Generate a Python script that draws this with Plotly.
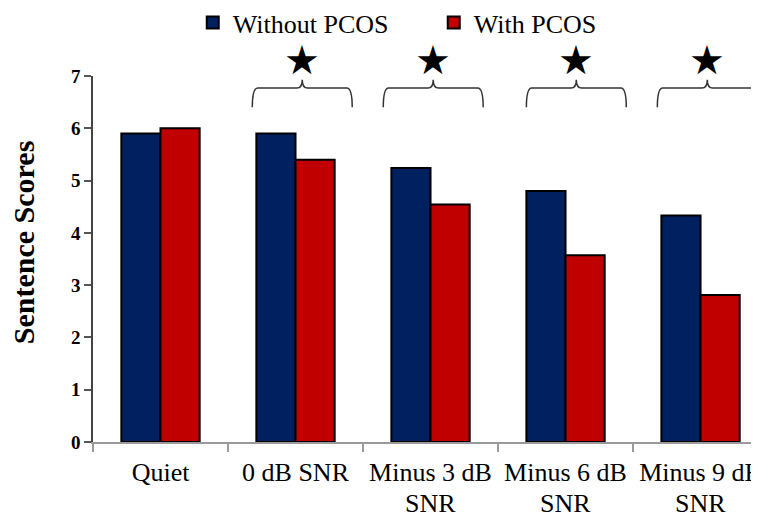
import plotly.graph_objects as go

categories = ["Quiet", "0 dB SNR", "Minus 3 dB", "Minus 6 dB", "Minus 9 dB"]
second_line = ["", "", "SNR", "SNR", "SNR"]
without_pcos = [5.9, 5.9, 5.24, 4.8, 4.33]
with_pcos = [6.0, 5.4, 4.54, 3.57, 2.81]
y_ticks = [0, 1, 2, 3, 4, 5, 6, 7]
# significance markers: category index with small hand-placed offsets, as in the source
sig_centers = [1.05, 2.02, 3.08, 4.05]

FONT = "Liberation Serif"
BLUE = "#002060"
RED = "#C00000"
Y_MAX = 7

xs = list(range(len(categories)))

fig = go.Figure()
fig.add_trace(go.Bar(x=xs, y=without_pcos, name="Without PCOS",
                     marker=dict(color=BLUE, line=dict(color="black", width=2))))
fig.add_trace(go.Bar(x=xs, y=with_pcos, name="With PCOS",
                     marker=dict(color=RED, line=dict(color="black", width=2))))

# curly brackets with stars
hw = 0.37
y_end, y_bar, y_tip = 6.40, 6.77, 6.93
for c in sig_centers:
    x0, x1 = c - hw, c + hw
    path = (f"M {x0},{y_end} Q {x0},{y_bar} {x0+0.04},{y_bar} "
            f"L {c-0.04},{y_bar} Q {c},{y_bar} {c},{y_tip} "
            f"Q {c},{y_bar} {c+0.04},{y_bar} "
            f"L {x1-0.04},{y_bar} Q {x1},{y_bar} {x1},{y_end}")
    fig.add_shape(type="path", path=path, xref="x", yref="y",
                  line=dict(color="#333333", width=1.5))
    fig.add_annotation(x=c, y=7.31 / Y_MAX, xref="x", yref="paper", text="★", showarrow=False,
                       font=dict(family="DejaVu Sans", size=40, color="black"),
                       xanchor="center", yanchor="middle")

# second line of the category labels
for i, t in enumerate(second_line):
    if t:
        fig.add_annotation(x=i, y=-0.167, xref="x", yref="paper", text=t, showarrow=False,
                           font=dict(family=FONT, size=26, color="black"),
                           xanchor="center", yanchor="middle")

# y-axis title
fig.add_annotation(x=-0.105, y=0.546, xref="paper", yref="paper", text="<b>Sentence Scores</b>",
                   textangle=-90, showarrow=False, xanchor="center", yanchor="middle",
                   font=dict(family=FONT, size=30, color="black"))

fig.update_layout(
    width=751, height=505,
    margin=dict(l=85, r=0, t=68, b=71, autoexpand=False),
    plot_bgcolor="white", paper_bgcolor="white",
    barmode="group", bargap=0.42, bargroupgap=0,
    font=dict(family=FONT, color="black"),
    legend=dict(orientation="h", xref="container", yref="container",
                x=0.246, y=0.971, xanchor="left", yanchor="middle",
                font=dict(family=FONT, size=26), entrywidth=196, entrywidthmode="pixels",
                itemwidth=30, tracegroupgap=0, bgcolor="rgba(0,0,0,0)"),
    xaxis=dict(range=[-0.5, 4.433], tickvals=xs, ticktext=categories, ticks="",
               showline=True, linecolor="#9a9a9a", linewidth=1.5, automargin=False,
               ticklabeloverflow="allow", ticklabelstandoff=6,
               tickfont=dict(family=FONT, size=26), showgrid=False, zeroline=False),
    xaxis2=dict(overlaying="x", matches="x", anchor="y", side="bottom", automargin=False,
                tickvals=[i - 0.5 for i in range(len(categories) + 1)],
                ticks="outside", ticklen=9, tickcolor="#9a9a9a", tickwidth=1.5,
                showticklabels=False, showgrid=False, zeroline=False, showline=False),
    yaxis=dict(range=[0, Y_MAX], tickvals=y_ticks, ticks="outside", ticklen=7,
               tickcolor="#555555", tickwidth=1.5, automargin=False,
               showline=True, linecolor="#444444", linewidth=1.5,
               showgrid=False, zeroline=False,
               tickfont=dict(family=FONT, size=19, weight="bold")),
)
# invisible trace to activate xaxis2
fig.add_trace(go.Scatter(x=[0], y=[0], xaxis="x2", mode="markers",
                         marker=dict(opacity=0), showlegend=False, hoverinfo="skip"))

fig.write_html("out.html")
